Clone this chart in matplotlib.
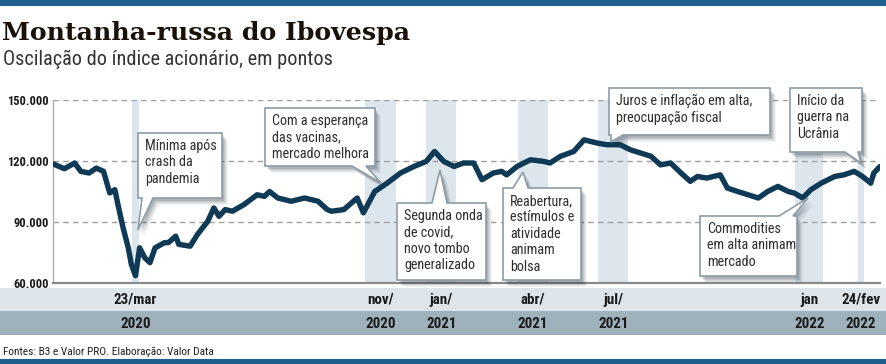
import matplotlib
matplotlib.use("Agg")
import matplotlib.pyplot as plt
import matplotlib.dates as mdates
from matplotlib import font_manager as fm
from matplotlib.patches import Polygon, Rectangle
from matplotlib.transforms import Affine2D, blended_transform_factory
import pandas as pd

# ---------------- data ----------------
dates = ["2020-01-03","2020-01-14","2020-01-24","2020-01-30","2020-02-07","2020-02-14",
         "2020-02-21","2020-02-27","2020-03-03","2020-03-06","2020-03-11","2020-03-16",
         "2020-03-19","2020-03-23","2020-03-27","2020-04-01","2020-04-06","2020-04-11",
         "2020-04-20","2020-04-24","2020-05-01","2020-05-04","2020-05-15","2020-05-22",
         "2020-06-01","2020-06-07","2020-06-12","2020-06-18","2020-06-25","2020-07-06",
         "2020-07-19","2020-07-26","2020-07-31","2020-08-08","2020-08-21","2020-09-03",
         "2020-09-16","2020-09-25","2020-09-29","2020-10-11","2020-10-24","2020-10-30",
         "2020-11-10","2020-11-22","2020-12-05","2020-12-18","2020-12-30","2021-01-07",
         "2021-01-16","2021-01-26","2021-02-04","2021-02-14","2021-02-22","2021-03-05",
         "2021-03-13","2021-03-18","2021-03-28","2021-04-10","2021-04-23","2021-04-29",
         "2021-05-09","2021-05-22","2021-06-01","2021-06-14","2021-06-23","2021-07-06",
         "2021-07-16","2021-07-26","2021-08-05","2021-08-14","2021-08-24","2021-09-03",
         "2021-09-12","2021-09-19","2021-09-28","2021-10-11","2021-10-18","2021-10-28",
         "2021-11-07","2021-11-17","2021-11-26","2021-12-06","2021-12-16","2021-12-22",
         "2021-12-30","2022-01-07","2022-01-17","2022-01-30","2022-02-08","2022-02-18",
         "2022-02-26","2022-03-06","2022-03-09","2022-03-15"]
ibov = [118600,116200,119000,114900,114100,116500,
        114900,104300,105900,98500,87100,77300,
        69100,63600,77300,72400,70000,77300,
        79800,79900,83000,79000,78100,83800,
        90300,96900,92800,96100,95300,98500,
        103400,102600,105000,101800,100200,101800,
        100200,96100,95300,96100,101800,94500,
        105000,109100,114100,117300,119800,124700,
        119800,117300,119000,119000,110800,114100,
        114900,113200,117300,120600,119800,119000,
        122300,124700,130400,128800,128000,128000,
        125500,123900,122300,118100,119000,114100,
        110000,112400,111600,113200,106700,105000,
        103400,101800,105000,107500,105000,104200,
        101800,105900,109100,112400,113200,114900,
        112400,109100,114100,117300]

band_start = ["2020-03-20","2020-11-01","2020-12-30","2021-03-29","2021-06-15","2021-12-23","2022-02-22"]
band_end   = ["2020-03-26","2020-12-01","2021-01-28","2021-04-27","2021-07-14","2022-01-19","2022-02-27"]
month_labels = ["23/mar","nov/","jan/","abr/","jul/","jan","24/fev"]
year_labels  = ["2020","2020","2021","2021","2021","2022","2022"]

y_ticks = [60000, 90000, 120000, 150000]
y_tick_labels = ["60.000", "90.000", "120.000", "150.000"]

title = "Montanha-russa do Ibovespa"
subtitle = "Oscilação do índice acionário, em pontos"
source = "Fontes: B3 e Valor PRO. Elaboração: Valor Data"

callout_texts = ["Mínima após\ncrash da\npandemia",
                 "Com a esperança\ndas vacinas,\nmercado melhora",
                 "Segunda onda\nde covid,\nnovo tombo\ngeneralizado",
                 "Reabertura,\nestímulos e\natividade\nanimam\nbolsa",
                 "Juros e inflação em alta,\npreocupação fiscal",
                 "Início da\nguerra na\nUcrânia",
                 "Commodities\nem alta animam\nmercado"]

# ---------------- fonts ----------------
names = {f.name for f in fm.fontManager.ttflist}
def pick(cands, default="DejaVu Sans"):
    for c in cands:
        if c in names:
            return c
    return default
NARROW = pick(["Liberation Sans Narrow", "Roboto Condensed", "Open Sans Condensed",
               "Noto Sans Condensed", "Roboto"])
SERIF = pick(["DejaVu Serif"])
NF = [NARROW, "DejaVu Sans"]

W, H = 886, 364
fig = plt.figure(figsize=(W / 100, H / 100), dpi=100)
fig.patch.set_facecolor("white")
# pixel transform (origin top-left)
PX = Affine2D().scale(1 / W, -1 / H).translate(0, 1) + fig.transFigure

BLUE = "#1f5f8b"
LINE = "#0f3a56"

# top and bottom bars
fig.add_artist(Rectangle((0, 0), W, 6, transform=PX, color=BLUE, lw=0))
fig.add_artist(Rectangle((0, 359), W, 5, transform=PX, color=BLUE, lw=0))

# title / subtitle / source
fig.text(2, 40, title, transform=PX, family=SERIF, weight="bold", fontsize=18.2,
         color="#1a1208", va="baseline", ha="left")
fig.text(3, 65, subtitle, transform=PX, family=NF, fontsize=14.6, color="#333333",
         va="baseline", ha="left")
fig.text(3, 355, source, transform=PX, family=NF, fontsize=8.2, color="#222222",
         va="baseline", ha="left")

# axis rows background
fig.add_artist(Rectangle((0, 288), W, 23, transform=PX, color="#dde5eb", lw=0))
fig.add_artist(Rectangle((0, 311), W, 24, transform=PX, color="#9fb1ba", lw=0))

# ---------------- main axes ----------------
ax = fig.add_axes([53 / W, 1 - 283 / H, (880 - 53) / W, (283 - 100) / H])
x = pd.to_datetime(dates)
ax.set_xlim(pd.Timestamp("2020-01-03"), pd.Timestamp("2022-03-15"))
ax.set_ylim(60000, 150000)

bs = pd.to_datetime(band_start)
be = pd.to_datetime(band_end)
for s, e in zip(bs, be):
    ax.axvspan(s, e, color="#dde6ed", lw=0, zorder=0)

for yv in y_ticks[1:]:
    ax.axhline(yv, color="#a0a0a0", lw=1.0, dashes=(4, 3), zorder=1)

ax.plot(x, ibov, color=LINE, lw=3.9, solid_joinstyle="round", solid_capstyle="round", zorder=3)

ax.set_yticks(y_ticks)
ax.set_yticklabels(y_tick_labels, family=NF, weight="bold", fontsize=9, color="#1a1a1a")
ax.tick_params(axis="y", length=0, pad=3)
ax.set_xticks([])
for sp in ["top", "right"]:
    ax.spines[sp].set_visible(False)
ax.spines["left"].set_color("#b0b0b0")
ax.spines["left"].set_linewidth(1.0)
ax.spines["bottom"].set_color("#8a8a8a")
ax.spines["bottom"].set_linewidth(1.6)
ax.patch.set_alpha(0)

# month/year labels centred on the bands
bt = blended_transform_factory(ax.transData, PX)
for s, e, m, yr in zip(bs, be, month_labels, year_labels):
    c = s + (e - s) / 2
    fig.text(mdates.date2num(c), 300, m, transform=bt, family=NF, weight="bold",
             fontsize=10.8, color="#1a1a1a", ha="center", va="center")
    fig.text(mdates.date2num(c), 323.5, yr, transform=bt, family=NF, weight="bold",
             fontsize=10.8, color="#1a1a1a", ha="center", va="center")

# ---------------- callouts ----------------
def callout(box, side, base, tip, text):
    x0, y0, x1, y1 = box
    b0, b1 = base
    if side == "bottom":
        pts = [(x0, y0), (x1, y0), (x1, y1), (b1, y1), tip, (b0, y1), (x0, y1)]
    else:
        pts = [(x0, y0), (b0, y0), tip, (b1, y0), (x1, y0), (x1, y1), (x0, y1)]
    for dx, dy, a in [(6, 7, 0.05), (5, 6, 0.06), (4, 5, 0.08), (3, 4, 0.10), (2, 3, 0.12)]:
        sh = [(px + dx, py + dy) for px, py in pts]
        fig.add_artist(Polygon(sh, closed=True, transform=PX, facecolor="#202a33",
                               alpha=a, lw=0, zorder=5))
    fig.add_artist(Polygon(pts, closed=True, transform=PX, facecolor="white",
                           edgecolor="#8e9ca6", lw=1.2, zorder=6, joinstyle="miter"))
    fig.text(x0 + 7, y0 + 6, text, transform=PX, family=NF, fontsize=10.2,
             color="#2e2e2e", ha="left", va="top", linespacing=1.22, zorder=7)

boxes = [(138, 133, 222, 198), (265, 108, 375, 166), (397, 203, 486, 280),
         (503, 188, 581, 280), (609, 88, 770, 135), (790, 88, 862, 152),
         (700, 216, 797, 276)]
sides = ["bottom", "bottom", "top", "top", "bottom", "bottom", "top"]
bases = [(142, 153), (352, 366), (432, 447), (513, 528), (611, 623), (845, 858), (779, 793)]
tips = [(138, 230), (381, 183), (440, 170), (523, 172), (611, 142), (861, 163), (808, 198)]
for b, s, bb, t, txt in zip(boxes, sides, bases, tips, callout_texts):
    callout(b, s, bb, t, txt)

fig.savefig("out.png", dpi=100, facecolor="white")
